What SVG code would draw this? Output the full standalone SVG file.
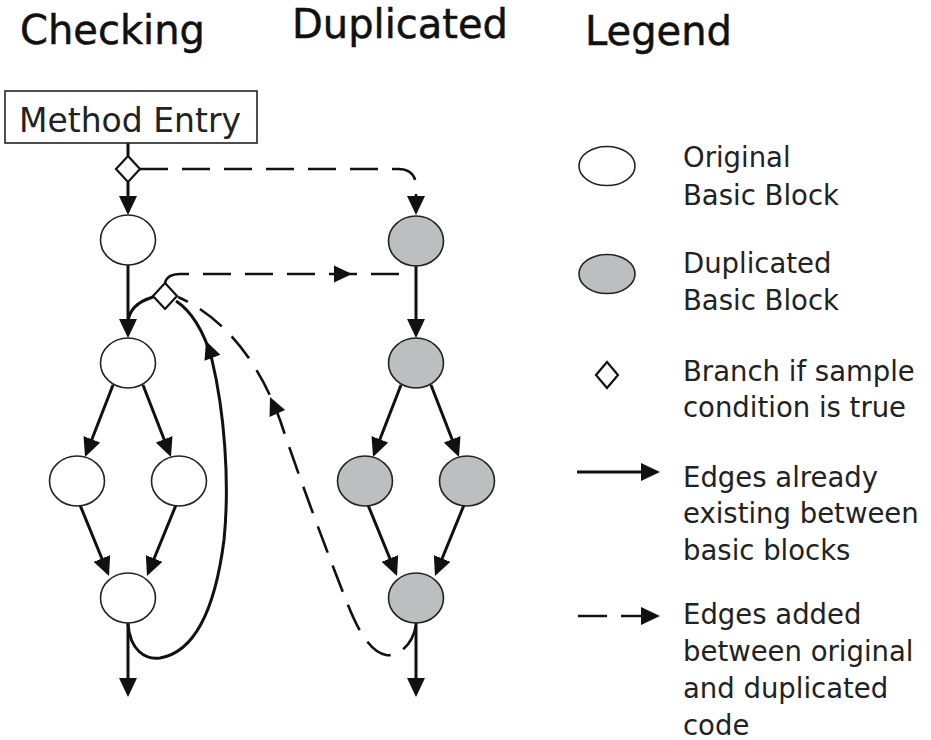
<svg xmlns="http://www.w3.org/2000/svg" xmlns:xlink="http://www.w3.org/1999/xlink" width="931" height="740" viewBox="0 0 931 740">
  <style>
    .head { font-family: "DejaVu Sans", "Liberation Sans", sans-serif; font-size: 40px; fill: #111; stroke: #111; stroke-width: 0.5px; }
    .lbl { font-family: "DejaVu Sans", "Liberation Sans", sans-serif; font-size: 27.5px; fill: #222; }
    .entry { font-family: "DejaVu Sans", "Liberation Sans", sans-serif; font-size: 33px; fill: #222; }
    .blk { fill: #ffffff; stroke: #222; stroke-width: 1.6px; }
    .dup { fill: #bcbec0; stroke: #222; stroke-width: 1.6px; }
    .br { fill: #ffffff; stroke: #111; stroke-width: 2.2px; }
    .edge { fill: none; stroke: #111; stroke-width: 3px; }
    .dash { fill: none; stroke: #111; stroke-width: 2.6px; stroke-dasharray: 28 14; }
    .head-tri { fill: #111; }
  </style>
  <defs>
    <marker id="arrow" viewBox="0 0 19 18" refX="15.5" refY="9" markerWidth="19" markerHeight="18" markerUnits="userSpaceOnUse" orient="auto">
      <path d="M0,0 L19,9 L0,18 z" fill="#111"/>
    </marker>
    <!-- free-standing arrowhead, tip at the origin, pointing along +x -->
    <path id="tri" d="M-18,-8.5 L0,0 L-18,8.5 z"/>
  </defs>

  <rect width="931" height="740" fill="#ffffff"/>

  <!-- column headings -->
  <text class="head" x="20" y="44">Checking</text>
  <text class="head" x="292" y="38">Duplicated</text>
  <text class="head" x="585" y="45">Legend</text>

  <!-- connectors -->
  <g id="connectors">
    <!-- checking column -->
    <path class="edge" d="M128,143 V156"/>
    <path class="edge" d="M128,182 V211.5" marker-end="url(#arrow)"/>
    <path class="edge" d="M128,265 V334.5" marker-end="url(#arrow)"/>
    <path class="edge" d="M153,297 C140,301 129,308 128,322"/>
    <path class="edge" d="M113,385 L86.3,453.7" marker-end="url(#arrow)"/>
    <path class="edge" d="M143,385 L169.7,453.7" marker-end="url(#arrow)"/>
    <path class="edge" d="M80,505 L107.7,572.8" marker-end="url(#arrow)"/>
    <path class="edge" d="M176,505 L148.3,572.8" marker-end="url(#arrow)"/>
    <path class="edge" d="M128,623 V693.5" marker-end="url(#arrow)"/>
    <!-- back edge from the last block up to the sample branch -->
    <path class="edge" d="M128,624 C130,650 145,660 160,658 C195,652 215,610 224,540 C230,480 224,410 212,360 C204,330 190,310 176,301"/>
    <use xlink:href="#tri" class="head-tri" transform="translate(206,341) rotate(-111)"/>

    <!-- duplicated column -->
    <path class="edge" d="M416,266 V334.5" marker-end="url(#arrow)"/>
    <path class="edge" d="M401,385 L374.3,453.7" marker-end="url(#arrow)"/>
    <path class="edge" d="M431,385 L457.7,453.7" marker-end="url(#arrow)"/>
    <path class="edge" d="M368,505 L395.7,572.8" marker-end="url(#arrow)"/>
    <path class="edge" d="M464,505 L436.3,572.8" marker-end="url(#arrow)"/>
    <path class="edge" d="M416,623 V693.5" marker-end="url(#arrow)"/>

    <!-- edges added between original and duplicated code -->
    <path class="dash" d="M140,169 H398 Q416,169 416,187 V211.5" marker-end="url(#arrow)"/>
    <path class="dash" d="M165,283 Q167,274 180,274 H403"/>
    <use xlink:href="#tri" class="head-tri" transform="translate(352,274)"/>
    <path class="dash" d="M416,625 C413,643 400,657 386,655 C370,652 358,630 348,605 C330,560 300,480 280,420 C262,370 230,320 178,297"/>
    <use xlink:href="#tri" class="head-tri" transform="translate(270,397) rotate(-114)"/>
  </g>

  <!-- nodes -->
  <g id="method-entry">
    <rect x="5" y="91" width="252" height="52" fill="#ffffff" stroke="#222" stroke-width="1.6"/>
    <text class="entry" x="130" y="132" text-anchor="middle">Method Entry</text>
  </g>
  <g id="branch-entry"><polygon class="br" points="128,156 140,169 128,182 116,169"/></g>
  <g id="orig-1"><ellipse class="blk" cx="128" cy="240" rx="27.5" ry="25"/></g>
  <g id="branch-loop"><polygon class="br" points="165,283 177,296 165,309 153,296"/></g>
  <g id="orig-2"><ellipse class="blk" cx="128" cy="363" rx="27.5" ry="25"/></g>
  <g id="orig-3a"><ellipse class="blk" cx="77" cy="481" rx="27.5" ry="25"/></g>
  <g id="orig-3b"><ellipse class="blk" cx="179" cy="481" rx="27.5" ry="25"/></g>
  <g id="orig-4"><ellipse class="blk" cx="128" cy="598" rx="27.5" ry="25"/></g>

  <g id="dup-1"><ellipse class="dup" cx="416" cy="241" rx="27.5" ry="25"/></g>
  <g id="dup-2"><ellipse class="dup" cx="416" cy="363" rx="27.5" ry="25"/></g>
  <g id="dup-3a"><ellipse class="dup" cx="365" cy="481" rx="27.5" ry="25"/></g>
  <g id="dup-3b"><ellipse class="dup" cx="467" cy="481" rx="27.5" ry="25"/></g>
  <g id="dup-4"><ellipse class="dup" cx="416" cy="598" rx="27.5" ry="25"/></g>

  <!-- legend -->
  <g id="legend">
    <ellipse class="blk" cx="607" cy="166" rx="28" ry="19.5"/>
    <text class="lbl" x="683" y="167">Original</text>
    <text class="lbl" x="683" y="205">Basic Block</text>

    <ellipse class="dup" cx="607" cy="274" rx="28" ry="19.5"/>
    <text class="lbl" x="683" y="273">Duplicated</text>
    <text class="lbl" x="683" y="310">Basic Block</text>

    <polygon class="br" points="607,362 618,375 607,388 596,375"/>
    <text class="lbl" x="683" y="381">Branch if sample</text>
    <text class="lbl" x="683" y="417">condition is true</text>

    <path class="edge" d="M577,472 H656.5" marker-end="url(#arrow)"/>
    <text class="lbl" x="683" y="487">Edges already</text>
    <text class="lbl" x="683" y="523">existing between</text>
    <text class="lbl" x="683" y="560">basic blocks</text>

    <path class="dash" d="M578,616 H656.5" style="stroke-dasharray: 29 14" marker-end="url(#arrow)"/>
    <text class="lbl" x="683" y="624">Edges added</text>
    <text class="lbl" x="683" y="661">between original</text>
    <text class="lbl" x="683" y="698">and duplicated</text>
    <text class="lbl" x="683" y="735">code</text>
  </g>
</svg>
